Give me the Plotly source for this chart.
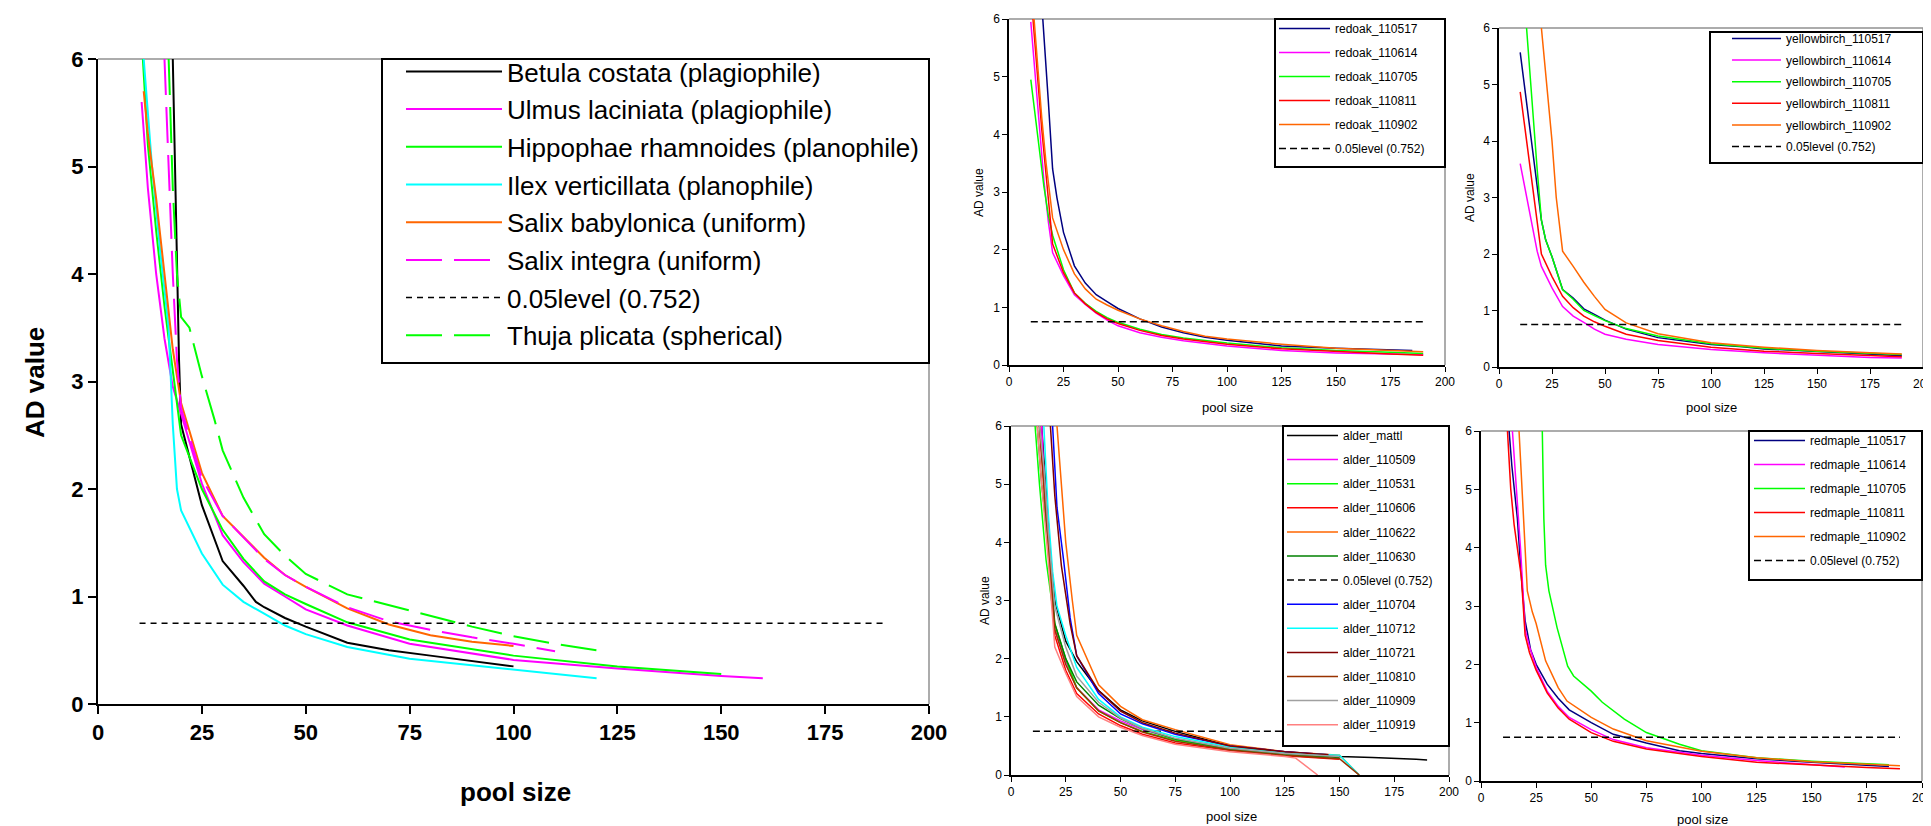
import plotly.graph_objects as go

W, H = 1931, 826

# ---------------- data: left panel ----------------
betula_x = [18, 18.5, 19, 19.5, 20, 25, 30, 35, 38, 40, 45, 50, 60, 70, 80, 90, 100]
betula_y = [6.0, 5.0, 4.0, 3.2, 2.6, 1.85, 1.33, 1.1, 0.95, 0.9, 0.8, 0.72, 0.57, 0.5, 0.45, 0.4, 0.35]
ulmus_x = [10.5, 12, 14, 16, 18, 20, 25, 30, 35, 40, 45, 50, 60, 75, 100, 125, 150, 160]
ulmus_y = [5.6, 4.8, 4.0, 3.4, 2.95, 2.7, 2.05, 1.57, 1.32, 1.12, 1.0, 0.88, 0.73, 0.56, 0.41, 0.33, 0.26, 0.24]
hippo_x = [10.8, 12, 14, 16, 18, 20, 25, 30, 35, 40, 45, 50, 60, 75, 100, 125, 150]
hippo_y = [6.0, 5.2, 4.4, 3.7, 3.1, 2.5, 2.0, 1.62, 1.35, 1.14, 1.02, 0.93, 0.76, 0.6, 0.45, 0.35, 0.28]
ilex_x = [11, 13, 15, 17, 18, 19, 20, 25, 30, 35, 40, 45, 50, 60, 75, 100, 120]
ilex_y = [6.0, 5.0, 4.2, 3.5, 2.6, 2.0, 1.8, 1.4, 1.11, 0.95, 0.84, 0.73, 0.65, 0.53, 0.42, 0.32, 0.24]
salixb_x = [11, 12, 14, 16, 18, 20, 25, 30, 35, 40, 45, 50, 60, 70, 80, 90, 100]
salixb_y = [5.7, 5.3, 4.7, 4.0, 3.3, 2.8, 2.15, 1.75, 1.55, 1.36, 1.2, 1.09, 0.89, 0.74, 0.64, 0.58, 0.54]
salixi_x = [16, 17, 18, 19, 20, 25, 30, 35, 40, 45, 50, 60, 70, 80, 90, 100, 110]
salixi_y = [6.0, 5.0, 4.0, 3.2, 2.75, 2.1, 1.75, 1.55, 1.35, 1.2, 1.09, 0.9, 0.77, 0.69, 0.62, 0.56, 0.49]
thuja_x = [17, 18, 19, 20, 22, 25, 28, 30, 35, 40, 45, 50, 60, 70, 80, 90, 100, 110, 120]
thuja_y = [6.0, 4.8, 4.0, 3.6, 3.5, 3.05, 2.65, 2.36, 1.92, 1.58, 1.38, 1.21, 1.02, 0.92, 0.82, 0.72, 0.63, 0.56, 0.5]
level_x = [10, 190]
level_y = [0.752, 0.752]

# ---------------- data: red oak ----------------
ro517_x = [15.5, 17, 18, 20, 22, 25, 30, 35, 40, 45, 50, 60, 70, 80, 90, 100, 110, 125, 150, 165, 175, 185]
ro517_y = [6.0, 5.2, 4.6, 3.4, 2.9, 2.3, 1.72, 1.42, 1.22, 1.1, 0.98, 0.8, 0.66, 0.56, 0.48, 0.43, 0.39, 0.33, 0.29, 0.27, 0.26, 0.25]
ro614_x = [10, 12, 14, 16, 18, 20, 25, 30, 35, 40, 45, 50, 60, 70, 80, 90, 100, 125, 150, 175, 190]
ro614_y = [5.95, 5.0, 4.0, 3.2, 2.5, 1.95, 1.55, 1.22, 1.05, 0.9, 0.78, 0.68, 0.56, 0.48, 0.42, 0.37, 0.33, 0.25, 0.21, 0.19, 0.18]
ro705_x = [10, 12, 14, 16, 18, 20, 25, 30, 35, 40, 45, 50, 60, 70, 80, 90, 100, 125, 150, 175, 190]
ro705_y = [4.95, 4.3, 3.7, 3.1, 2.6, 2.25, 1.65, 1.25, 1.07, 0.93, 0.82, 0.74, 0.62, 0.53, 0.47, 0.42, 0.38, 0.3, 0.25, 0.22, 0.2]
ro811_x = [11, 13, 15, 17, 19, 20, 25, 30, 35, 40, 45, 50, 60, 70, 80, 90, 100, 125, 150, 175, 190]
ro811_y = [6.0, 5.0, 4.1, 3.3, 2.5, 2.1, 1.6, 1.25, 1.06, 0.91, 0.8, 0.72, 0.6, 0.51, 0.45, 0.4, 0.36, 0.28, 0.23, 0.19, 0.17]
ro902_x = [11.5, 13, 15, 17, 19, 20, 25, 30, 35, 40, 45, 50, 60, 70, 80, 90, 100, 125, 150, 175, 190]
ro902_y = [6.0, 5.2, 4.3, 3.5, 2.85, 2.55, 2.0, 1.58, 1.32, 1.14, 1.04, 0.95, 0.8, 0.68, 0.58, 0.5, 0.45, 0.36, 0.29, 0.25, 0.23]

# ---------------- data: yellow birch ----------------
yb517_x = [10, 12, 14, 16, 18, 20, 22, 25, 30, 35, 40, 45, 50, 60, 75, 100, 115, 125, 150, 175, 190]
yb517_y = [5.57, 5.0, 4.4, 3.8, 3.2, 2.6, 2.25, 1.95, 1.37, 1.22, 1.03, 0.93, 0.83, 0.67, 0.52, 0.4, 0.36, 0.32, 0.27, 0.22, 0.2]
yb614_x = [10, 12, 14, 16, 18, 20, 25, 30, 35, 40, 45, 50, 60, 75, 100, 125, 150, 175, 190]
yb614_y = [3.6, 3.2, 2.8, 2.4, 2.05, 1.78, 1.4, 1.07, 0.9, 0.79, 0.67, 0.58, 0.49, 0.4, 0.31, 0.25, 0.21, 0.17, 0.16]
yb705_x = [13, 14, 16, 18, 20, 22, 25, 30, 35, 40, 45, 50, 60, 75, 100, 125, 150, 175, 190]
yb705_y = [6.0, 5.5, 4.4, 3.5, 2.6, 2.25, 1.95, 1.37, 1.2, 1.0, 0.91, 0.82, 0.68, 0.55, 0.41, 0.33, 0.28, 0.24, 0.22]
yb811_x = [10, 12, 14, 16, 18, 20, 25, 30, 35, 40, 45, 50, 60, 75, 100, 125, 150, 175, 190]
yb811_y = [4.87, 4.3, 3.7, 3.1, 2.5, 2.0, 1.6, 1.25, 1.05, 0.9, 0.8, 0.72, 0.58, 0.47, 0.35, 0.28, 0.24, 0.2, 0.18]
yb902_x = [20, 22.5, 25, 27, 30, 35, 40, 45, 50, 55, 60, 75, 100, 125, 150, 175, 190]
yb902_y = [6.0, 5.0, 4.0, 3.0, 2.05, 1.78, 1.5, 1.25, 1.02, 0.9, 0.78, 0.59, 0.43, 0.35, 0.29, 0.25, 0.23]

# ---------------- data: alder ----------------
al_mattl_x = [14, 16, 18, 20, 25, 30, 40, 50, 60, 75, 100, 125, 150, 165, 175, 185, 190]
al_mattl_y = [6.0, 4.8, 3.8, 3.0, 2.3, 1.95, 1.45, 1.12, 0.93, 0.75, 0.5, 0.4, 0.32, 0.3, 0.29, 0.27, 0.26]
al_509_x = [14, 15, 17, 20, 25, 30, 40, 50, 60, 75, 100, 125, 150]
al_509_y = [6.0, 5.2, 4.2, 2.5, 1.95, 1.5, 1.12, 0.93, 0.78, 0.62, 0.46, 0.37, 0.31]
al_531_x = [11, 13, 16, 20, 25, 30, 40, 50, 60, 75, 100, 125, 145]
al_531_y = [6.0, 5.0, 3.7, 2.6, 2.0, 1.5, 1.1, 0.9, 0.75, 0.6, 0.44, 0.35, 0.31]
al_606_x = [13, 15, 17, 20, 25, 30, 40, 50, 60, 75, 100, 125, 150]
al_606_y = [6.0, 5.0, 4.0, 2.4, 1.8, 1.4, 1.05, 0.85, 0.7, 0.55, 0.42, 0.33, 0.27]
al_622_x = [21, 23, 25, 28, 30, 40, 50, 60, 75, 100, 125, 150, 159]
al_622_y = [6.0, 5.0, 4.0, 3.0, 2.4, 1.55, 1.18, 0.95, 0.78, 0.52, 0.4, 0.34, 0.0]
al_630_x = [12, 14, 17, 20, 25, 30, 40, 50, 60, 75, 100, 125, 150]
al_630_y = [6.0, 5.0, 4.0, 2.6, 2.0, 1.6, 1.2, 0.97, 0.8, 0.62, 0.45, 0.36, 0.3]
al_704_x = [19, 21, 24, 27, 30, 40, 50, 60, 75, 100, 125, 145]
al_704_y = [6.0, 4.6, 3.7, 2.7, 2.05, 1.4, 1.05, 0.88, 0.7, 0.5, 0.4, 0.35]
al_712_x = [15, 17, 19, 21, 25, 30, 40, 50, 60, 75, 100, 125, 150, 159]
al_712_y = [6.0, 4.5, 3.5, 2.9, 2.4, 1.85, 1.3, 1.0, 0.82, 0.66, 0.48, 0.38, 0.34, 0.0]
al_721_x = [18, 20, 23, 27, 30, 40, 50, 60, 75, 100, 125, 145]
al_721_y = [6.0, 4.8, 3.6, 2.6, 2.05, 1.45, 1.1, 0.9, 0.72, 0.5, 0.4, 0.35]
al_810_x = [13, 15, 17, 20, 25, 30, 40, 50, 60, 75, 100, 125, 150, 159]
al_810_y = [6.0, 5.0, 3.9, 2.5, 1.9, 1.5, 1.1, 0.9, 0.74, 0.58, 0.43, 0.34, 0.28, 0.0]
al_909_x = [13, 15, 17, 20, 25, 30, 40, 50, 60, 75, 100, 125, 150]
al_909_y = [6.0, 5.3, 4.2, 2.9, 2.2, 1.7, 1.25, 0.98, 0.8, 0.63, 0.46, 0.37, 0.32]
al_919_x = [12, 14, 17, 20, 25, 30, 40, 50, 60, 75, 100, 125, 130, 140]
al_919_y = [6.0, 5.0, 3.7, 2.2, 1.75, 1.35, 1.0, 0.82, 0.68, 0.53, 0.4, 0.32, 0.29, 0.0]

# ---------------- data: red maple ----------------
rm517_x = [12.75, 14, 16.5, 18.3, 20, 22.5, 25, 30, 35, 40, 50, 60, 75, 90, 100, 125, 150, 175, 185]
rm517_y = [6.0, 5.4, 4.5, 3.5, 2.75, 2.25, 2.0, 1.66, 1.42, 1.22, 1.0, 0.8, 0.65, 0.52, 0.47, 0.38, 0.32, 0.27, 0.25]
rm614_x = [14.25, 16, 18, 20, 22, 25, 30, 35, 40, 50, 60, 75, 100, 125, 150, 165]
rm614_y = [6.0, 5.0, 3.94, 2.6, 2.3, 1.95, 1.54, 1.28, 1.09, 0.88, 0.71, 0.57, 0.44, 0.35, 0.28, 0.24]
rm705_x = [27.8, 28.5, 29.3, 30.8, 34.5, 39.3, 42, 50, 55, 60, 65, 75, 90, 100, 125, 150, 175, 185]
rm705_y = [6.0, 4.5, 3.7, 3.26, 2.63, 1.97, 1.8, 1.54, 1.35, 1.2, 1.06, 0.83, 0.63, 0.52, 0.4, 0.34, 0.3, 0.28]
rm811_x = [12, 13.5, 15, 17, 18.3, 20, 22, 25, 30, 35, 40, 50, 60, 75, 100, 125, 150, 175, 190]
rm811_y = [6.0, 5.0, 4.4, 3.9, 3.5, 2.5, 2.2, 1.9, 1.51, 1.25, 1.06, 0.83, 0.68, 0.55, 0.42, 0.32, 0.27, 0.23, 0.21]
rm902_x = [17.25, 18.5, 19.5, 21, 23.25, 25, 29.3, 35, 39, 50, 60, 75, 100, 125, 150, 175, 190]
rm902_y = [6.0, 5.0, 4.3, 3.26, 2.9, 2.7, 2.06, 1.6, 1.37, 1.09, 0.89, 0.69, 0.51, 0.4, 0.33, 0.28, 0.26]

LEVEL_NAME = "0.05level (0.752)"
FONT = "Arial, Liberation Sans, sans-serif"

NAVY, MAG, GRN, RED, ORG = "#000080", "#FF00FF", "#00FF00", "#FF0000", "#FF6600"
CYAN, DGRN, BLUE, DRED, BRN, GRAY, PINK = "#00FFFF", "#008000", "#0000FF", "#800000", "#993300", "#A0A0A0", "#FF8080"

fig = go.Figure()
gid = [0]


def add(x, y, name, color, ax, leg, width, dash="solid"):
    gid[0] += 1
    xa = "x" if ax == 1 else "x%d" % ax
    ya = "y" if ax == 1 else "y%d" % ax
    fig.add_trace(go.Scatter(
        x=x, y=y, name=name, mode="lines", xaxis=xa, yaxis=ya,
        line=dict(color=color, width=width, dash=dash),
        legend=leg, legendgroup="g%d" % gid[0], hoverinfo="skip"))


# left panel
L = "legend"
add(betula_x, betula_y, "Betula costata (plagiophile)", "#000000", 1, L, 2)
add(ulmus_x, ulmus_y, "Ulmus laciniata (plagiophile)", MAG, 1, L, 2)
add(hippo_x, hippo_y, "Hippophae rhamnoides (planophile)", GRN, 1, L, 2)
add(ilex_x, ilex_y, "Ilex verticillata (planophile)", CYAN, 1, L, 2)
add(salixb_x, salixb_y, "Salix babylonica (uniform)", ORG, 1, L, 2)
add(salixi_x, salixi_y, "Salix integra (uniform)", MAG, 1, L, 2, "36px,12px")
add(level_x, level_y, LEVEL_NAME, "#000000", 1, L, 1.5, "6px,5px")
add(thuja_x, thuja_y, "Thuja plicata (spherical)", GRN, 1, L, 2, "36px,12px")

SW = 1.5
SD = "7px,4px"
# red oak
add(ro517_x, ro517_y, "redoak_110517", NAVY, 2, "legend2", SW)
add(ro614_x, ro614_y, "redoak_110614", MAG, 2, "legend2", SW)
add(ro705_x, ro705_y, "redoak_110705", GRN, 2, "legend2", SW)
add(ro811_x, ro811_y, "redoak_110811", RED, 2, "legend2", SW)
add(ro902_x, ro902_y, "redoak_110902", ORG, 2, "legend2", SW)
add(level_x, level_y, LEVEL_NAME, "#000000", 2, "legend2", SW, SD)
# yellow birch
add(yb517_x, yb517_y, "yellowbirch_110517", NAVY, 3, "legend3", SW)
add(yb614_x, yb614_y, "yellowbirch_110614", MAG, 3, "legend3", SW)
add(yb705_x, yb705_y, "yellowbirch_110705", GRN, 3, "legend3", SW)
add(yb811_x, yb811_y, "yellowbirch_110811", RED, 3, "legend3", SW)
add(yb902_x, yb902_y, "yellowbirch_110902", ORG, 3, "legend3", SW)
add(level_x, level_y, LEVEL_NAME, "#000000", 3, "legend3", SW, SD)
# alder
add(al_mattl_x, al_mattl_y, "alder_mattl", "#000000", 4, "legend4", SW)
add(al_509_x, al_509_y, "alder_110509", MAG, 4, "legend4", SW)
add(al_531_x, al_531_y, "alder_110531", GRN, 4, "legend4", SW)
add(al_606_x, al_606_y, "alder_110606", RED, 4, "legend4", SW)
add(al_622_x, al_622_y, "alder_110622", ORG, 4, "legend4", SW)
add(al_630_x, al_630_y, "alder_110630", DGRN, 4, "legend4", SW)
add(level_x, level_y, LEVEL_NAME, "#000000", 4, "legend4", SW, SD)
add(al_704_x, al_704_y, "alder_110704", BLUE, 4, "legend4", SW)
add(al_712_x, al_712_y, "alder_110712", CYAN, 4, "legend4", SW)
add(al_721_x, al_721_y, "alder_110721", DRED, 4, "legend4", SW)
add(al_810_x, al_810_y, "alder_110810", BRN, 4, "legend4", SW)
add(al_909_x, al_909_y, "alder_110909", GRAY, 4, "legend4", SW)
add(al_919_x, al_919_y, "alder_110919", PINK, 4, "legend4", SW)
# red maple
add(rm517_x, rm517_y, "redmaple_110517", NAVY, 5, "legend5", SW)
add(rm614_x, rm614_y, "redmaple_110614", MAG, 5, "legend5", SW)
add(rm705_x, rm705_y, "redmaple_110705", GRN, 5, "legend5", SW)
add(rm811_x, rm811_y, "redmaple_110811", RED, 5, "legend5", SW)
add(rm902_x, rm902_y, "redmaple_110902", ORG, 5, "legend5", SW)
add(level_x, level_y, LEVEL_NAME, "#000000", 5, "legend5", SW, SD)


def px_x(v):
    return v / W


def px_y(v):
    return 1 - v / H


# panel pixel boxes: (left, right, top, bottom)
boxes = {
    1: (90, 921, 51, 696),
    2: (1001, 1437, 11, 357),
    3: (1491, 1915, 20, 359),
    4: (1003, 1441, 418, 767),
    5: (1473, 1914, 423, 773),
}

layout = dict(width=W, height=H, margin=dict(l=0, r=0, t=0, b=0, autoexpand=False),
              paper_bgcolor="white", plot_bgcolor="white", showlegend=True,
              font=dict(family=FONT, color="#000000"))

for k, (l, r, t, b) in boxes.items():
    big = (k == 1)
    sfx = "" if k == 1 else str(k)
    if big:
        tickfont = dict(size=22, family=FONT, color="#000000", weight="bold")
    else:
        tickfont = dict(size=12, family=FONT, color="#000000")
    common = dict(showgrid=False, zeroline=False, showline=True,
                  linecolor="#000000", linewidth=2 if big else 1.5,
                  ticks="outside", ticklen=8 if big else 5, tickwidth=1.5 if big else 1.2,
                  tickcolor="#000000", tickfont=tickfont, fixedrange=True)
    layout["xaxis" + sfx] = dict(common, domain=[px_x(l), px_x(r)], range=[0, 200], dtick=25, tick0=0,
                                 anchor="y" + sfx)
    layout["yaxis" + sfx] = dict(common, domain=[px_y(b), px_y(t)], range=[0, 6], dtick=1, tick0=0,
                                 anchor="x" + sfx)

shapes = []
for k in boxes:
    xr = "x domain" if k == 1 else "x%d domain" % k
    yr = "y domain" if k == 1 else "y%d domain" % k
    shapes.append(dict(type="line", xref=xr, yref=yr, x0=0, x1=1, y0=1, y1=1,
                       line=dict(color="#909090", width=1.5), layer="below"))
    shapes.append(dict(type="line", xref=xr, yref=yr, x0=1, x1=1, y0=0, y1=1,
                       line=dict(color="#909090", width=1.5), layer="below"))

# legend frames (left, right, top, bottom in px) drawn as white boxes with black borders
frames = [(374, 921, 51, 355), (1267, 1437, 11, 159), (1702, 1915, 24, 155),
          (1275, 1441, 418, 738), (1741, 1914, 423, 572)]
for (l, r, t, b) in frames:
    shapes.append(dict(type="rect", xref="paper", yref="paper", x0=px_x(l), x1=px_x(r),
                       y0=px_y(b), y1=px_y(t), fillcolor="white",
                       line=dict(color="#000000", width=2), layer="above"))
layout["shapes"] = shapes

leg_common = dict(bgcolor="rgba(0,0,0,0)", borderwidth=0,
                  xanchor="left", yanchor="top", traceorder="grouped")
small_font = dict(size=12, family=FONT, color="#000000")
layout["legend"] = dict(leg_common, x=px_x(393), y=px_y(40), itemwidth=96, tracegroupgap=0.9,
                        font=dict(size=26, family=FONT, color="#000000"))
layout["legend2"] = dict(leg_common, x=px_x(1266), y=px_y(6), itemwidth=51, tracegroupgap=5,
                         font=small_font)
layout["legend3"] = dict(leg_common, x=px_x(1719), y=px_y(16), itemwidth=49, tracegroupgap=2.6,
                         font=small_font)
layout["legend4"] = dict(leg_common, x=px_x(1274), y=px_y(413), itemwidth=51, tracegroupgap=5.1,
                         font=small_font)
layout["legend5"] = dict(leg_common, x=px_x(1741), y=px_y(418), itemwidth=51, tracegroupgap=5,
                         font=small_font)

ann = []
ann.append(dict(text="<b>AD value</b>", x=px_x(27), y=px_y(375), textangle=-90,
                font=dict(size=26, family=FONT)))
ann.append(dict(text="<b>pool size</b>", x=px_x(508), y=px_y(784),
                font=dict(size=26, family=FONT)))
for (xx, yy) in [(971, 185), (1462, 190), (977, 592)]:
    ann.append(dict(text="AD value", x=px_x(xx), y=px_y(yy), textangle=-90, font=dict(size=12, family=FONT)))
for (xx, yy) in [(1219, 399), (1703, 399), (1223, 808), (1694, 811)]:
    ann.append(dict(text="pool size", x=px_x(xx), y=px_y(yy), font=dict(size=13, family=FONT)))
for a in ann:
    a.update(xref="paper", yref="paper", showarrow=False, xanchor="center", yanchor="middle")
layout["annotations"] = ann

fig.update_layout(**layout)
fig.write_html("out.html")
